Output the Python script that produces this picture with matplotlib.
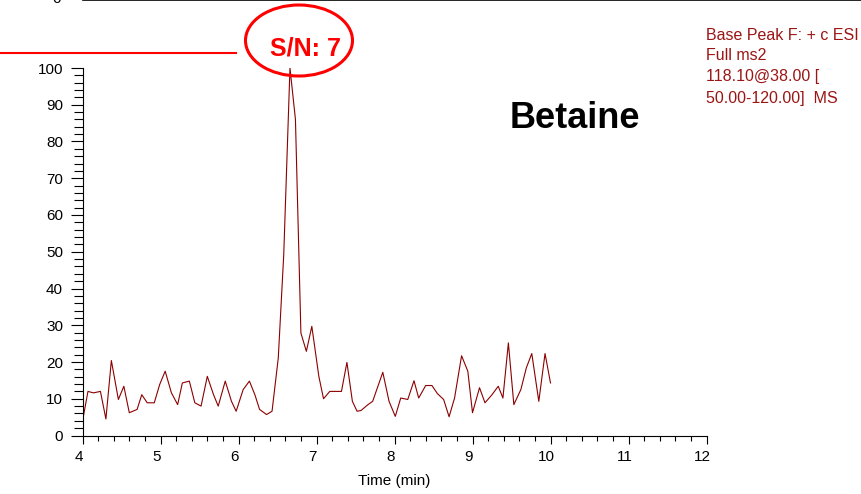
import matplotlib.pyplot as plt
import matplotlib.transforms as mtransforms
from matplotlib.patches import Ellipse
from matplotlib.lines import Line2D
from matplotlib.ticker import MultipleLocator

plt.rcParams["font.family"] = ["Liberation Sans", "DejaVu Sans"]

# chromatogram: time (min) and relative abundance (%)
times = [4.00, 4.07, 4.14, 4.23, 4.30, 4.37, 4.46, 4.53, 4.60, 4.70,
         4.76, 4.83, 4.92, 4.99, 5.06, 5.14, 5.22, 5.28, 5.37, 5.44, 5.52,
         5.60, 5.68, 5.74, 5.83, 5.91, 5.97, 6.06, 6.14, 6.21, 6.27, 6.36,
         6.43, 6.51, 6.58, 6.66, 6.73, 6.80, 6.87, 6.94, 7.03, 7.09, 7.17,
         7.25, 7.32, 7.39, 7.46, 7.52, 7.57, 7.66, 7.72, 7.85, 7.93, 8.01,
         8.08, 8.17, 8.25, 8.31, 8.40, 8.48, 8.55, 8.63, 8.70, 8.77, 8.86,
         8.94, 9.00, 9.09, 9.16, 9.25, 9.33, 9.39, 9.46, 9.53, 9.62, 9.69,
         9.76, 9.85, 9.93, 10.00]
abundance = [3.9, 12.0, 11.6, 12.0, 4.5, 20.4, 9.8, 13.4, 6.2, 7.1,
             11.1, 8.9, 8.9, 13.9, 17.5, 11.6, 8.4, 14.3, 14.8, 8.9, 8.0,
             16.1, 11.1, 8.0, 14.8, 9.3, 6.6, 12.5, 14.8, 11.1, 7.1, 5.7,
             6.6, 21.1, 49.2, 100.0, 86.0, 27.9, 22.9, 29.7, 16.1, 10.0, 12.0,
             12.0, 12.0, 19.9, 9.3, 6.6, 6.8, 8.4, 9.3, 17.2, 9.3, 5.2,
             10.2, 9.8, 14.9, 10.2, 13.6, 13.6, 11.4, 9.8, 5.1, 10.2, 21.7,
             17.5, 6.2, 13.0, 8.9, 11.1, 13.4, 10.2, 25.2, 8.4, 12.5, 18.4,
             22.3, 9.3, 22.3, 14.3]

W, H = 861, 494
fig = plt.figure(figsize=(W / 100, H / 100), dpi=100)


def fx(px):
    return px / W


def fy(py):
    return 1 - py / H


ax = fig.add_axes([fx(82.5), fy(435.5), fx(706.5) - fx(82.5), fy(68) - fy(435.5)])
ax.plot(times, abundance, color="#8b0000", lw=0.8)
ax.set_xlim(4, 12)
ax.set_ylim(0, 100)
ax.xaxis.set_major_locator(MultipleLocator(1))
ax.xaxis.set_minor_locator(MultipleLocator(0.2))
ax.yaxis.set_major_locator(MultipleLocator(10))
ax.yaxis.set_minor_locator(MultipleLocator(2))
ax.tick_params(axis="x", which="major", labelsize=11, length=5.5, width=0.8, pad=5)
ax.tick_params(axis="x", which="minor", length=3.8, width=0.8)
ax.tick_params(axis="y", which="major", labelsize=11, length=9, width=0.8, pad=5)
ax.tick_params(axis="y", which="minor", length=6.5, width=0.8)
ax.spines[["top", "right"]].set_visible(False)
ax.set_xlabel("Time (min)", fontsize=11, labelpad=7)

# x labels sit a little left of their ticks in the original
shift = mtransforms.ScaledTranslation(-4 / 100, 0, fig.dpi_scale_trans)
for lab in ax.get_xticklabels():
    lab.set_transform(lab.get_transform() + shift)

# panel text
fig.text(fx(575), fy(118), "Betaine", fontsize=26, fontweight="bold",
         ha="center", va="center")
info = ["Base Peak F: + c ESI", "Full ms2", "118.10@38.00 [",
        "50.00-120.00]  MS"]
for i, line in enumerate(info):
    fig.text(fx(706), fy(35 + 21 * i), line, fontsize=11.5, color="#9b1515",
             ha="left", va="center")

# S/N annotation
fig.add_artist(Ellipse((fx(299), fy(40.5)), fx(107), 71 / H,
                       transform=fig.transFigure, fill=False,
                       edgecolor="red", lw=2.2))
fig.text(fx(306), fy(48), "S/N: 7", fontsize=18, fontweight="bold",
         color="red", ha="center", va="center")
fig.add_artist(Line2D([0, fx(236)], [fy(53), fy(53)],
                      transform=fig.transFigure, color="red", lw=1.5))

# edge of the chart above
fig.add_artist(Line2D([fx(83), 1], [fy(0.5), fy(0.5)],
                      transform=fig.transFigure, color="black", lw=1.2))
fig.text(fx(57), fy(-1), "0", fontsize=11, ha="center", va="center")

fig.savefig("out.png", dpi=100)
